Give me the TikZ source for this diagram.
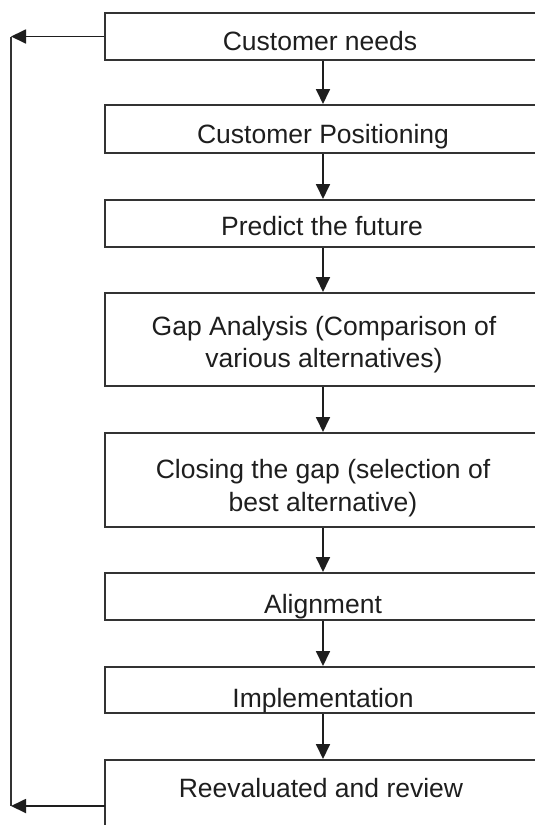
\documentclass[tikz,border=0pt]{standalone}
\usepackage{fontspec}
\setmainfont{Liberation Sans}
\usetikzlibrary{arrows.meta}
\definecolor{ink}{HTML}{1E1E1E}
\definecolor{edge}{HTML}{333333}
\tikzset{
  box/.style={draw=edge, line width=2pt, minimum width=436pt, inner sep=0pt, fill=none},
  txt/.style={anchor=base, inner sep=0pt, text=ink, font=\fontsize{26.5pt}{32pt}\selectfont},
  flow/.style={draw=ink, line width=1.8pt, -{Triangle[length=15pt,width=14pt]}},
  loopline/.style={draw=edge, line width=2pt},
}
\begin{document}
\begin{tikzpicture}[x=1pt,y=-1pt]
\useasboundingbox (0,0) rectangle (535,825);
\fill[white] (0,0) rectangle (535,825);
\clip (0,0) rectangle (535,825);
% boxes
\node[box, minimum height=47pt] (b1) at (323,36.5) {};
\node[box, minimum height=48pt] (b2) at (323,129) {};
\node[box, minimum height=47pt] (b3) at (323,223.5) {};
\node[box, minimum height=93pt] (b4) at (323,339.5) {};
\node[box, minimum height=94pt] (b5) at (323,480) {};
\node[box, minimum height=47pt] (b6) at (323,596.5) {};
\node[box, minimum height=46pt] (b7) at (323,690) {};
\node[box, minimum height=100pt] (b8) at (323,810) {};
% texts
\node[txt] (t1) at (320,50) {Customer needs};
\node[txt] (t2) at (323,143) {Customer Positioning};
\node[txt] (t3) at (322,235) {Predict the future};
\node[txt] (t4a) at (324,335) {Gap Analysis (Comparison of};
\node[txt] (t4b) at (324,367) {various alternatives)};
\node[txt] (t5a) at (323,478) {Closing the gap (selection of};
\node[txt] (t5b) at (323,511) {best alternative)};
\node[txt] (t6) at (323,613) {Alignment};
\node[txt] (t7) at (323,707) {Implementation};
\node[txt] (t8) at (321,797) {Reevaluated and review};
% flow arrows
\draw[flow] (b1.south) -- (b2.north);
\draw[flow] (b2.south) -- (b3.north);
\draw[flow] (b3.south) -- (b4.north);
\draw[flow] (b4.south) -- (b5.north);
\draw[flow] (b5.south) -- (b6.north);
\draw[flow] (b6.south) -- (b7.north);
\draw[flow] (b7.south) -- (b8.north);
% feedback loop
\coordinate (tl) at (11,36.5);
\coordinate (bl) at (11,806);
\coordinate (bs) at (105,806);
\draw[loopline] (tl) -- (bl);
\draw[flow] (b1.west) -- (tl);
\draw[flow] (bs) -- (bl);
\end{tikzpicture}
\end{document}
